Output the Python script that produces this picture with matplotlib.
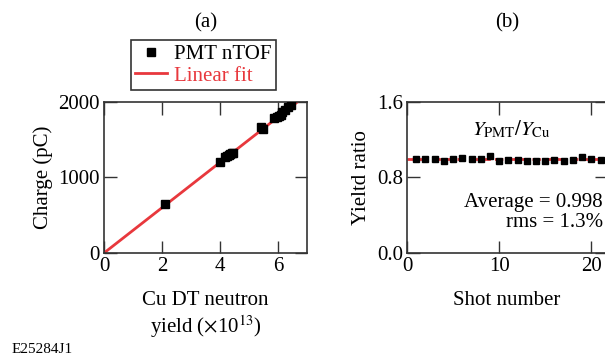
import matplotlib
matplotlib.use('Agg')
import matplotlib.pyplot as plt
import numpy as np

plt.rcParams['font.family'] = ['Liberation Serif', 'DejaVu Serif']
plt.rcParams['mathtext.fontset'] = 'stix'

# (a) PMT charge vs Cu activation yield (x1e13)
cu_yield = [2.12, 4.00, 4.18, 4.25, 4.30, 4.35, 4.40, 4.45, 5.40, 5.47,
            5.85, 5.95, 6.05, 6.10, 6.15, 6.25, 6.35, 6.45]
charge = [645, 1200, 1265, 1280, 1295, 1310, 1320, 1330, 1670, 1640,
          1790, 1805, 1815, 1830, 1870, 1900, 1935, 1965]
fit_slope = 300.0  # pC per 1e13

# (b) yield ratio per shot
shots = list(range(1, 22))
ratio = [1.00, 1.00, 1.00, 0.97, 1.00, 1.01, 1.00, 1.00, 1.03, 0.97, 0.99,
         0.99, 0.98, 0.97, 0.98, 0.99, 0.98, 0.99, 1.02, 1.00, 0.99]
ratio_avg = 0.998

red = '#e8383d'
spine_col = '#333333'

fig = plt.figure(figsize=(6.05, 3.64), dpi=100)
ax1 = fig.add_axes([104/605, 111/364, 203/605, 151/364])
ax2 = fig.add_axes([407/605, 111/364, 200/605, 151/364])

for ax in (ax1, ax2):
    ax.tick_params(direction='in', length=9, width=1, top=True, right=True,
                   labelsize=15, pad=3, color=spine_col)
    for s in ax.spines.values():
        s.set_linewidth(1.2)
        s.set_color(spine_col)

# panel (a)
xf = np.array([0, 7])
ax1.plot(xf, fit_slope * xf, color=red, lw=2, label='Linear fit', zorder=2)
ax1.plot(cu_yield, charge, 's', color='black', ms=5.5, label='PMT nTOF', zorder=3)
ax1.set_xlim(0, 7)
ax1.set_ylim(0, 2000)
ax1.set_xticks([0, 2, 4, 6])
ax1.set_yticks([0, 1000, 2000])
ax1.set_ylabel('Charge (pC)', fontsize=15, labelpad=4)
ax1.set_xlabel('Cu DT neutron\nyield ($\\times$10$^{13}$)', fontsize=15,
               linespacing=1.15, labelpad=11)
ax1.set_title('(a)', fontsize=15, pad=54)

h, l = ax1.get_legend_handles_labels()
leg = ax1.legend(h[::-1], l[::-1], loc='lower center',
                 bbox_to_anchor=(0.49, 1.08), fontsize=15,
                 frameon=True, fancybox=False, edgecolor='black',
                 handlelength=1.5, handletextpad=0.35, borderpad=0.2,
                 labelspacing=0.1, borderaxespad=0)
leg.get_frame().set_linewidth(1.2)
leg.get_texts()[1].set_color(red)

# panel (b)
ax2.axhline(ratio_avg, color=red, lw=2, ls=(0, (3, 1.5)), zorder=2)
ax2.plot(shots, ratio, 's', color='black', ms=3.8, zorder=3)
ax2.set_xlim(0, 21.7)
ax2.set_ylim(0, 1.6)
ax2.set_xticks([0, 10, 20])
ax2.set_yticks([0, 0.8, 1.6])
ax2.set_yticklabels(['0.0', '0.8', '1.6'])
ax2.set_ylabel('Yieltd ratio', fontsize=15, labelpad=4)
ax2.set_xlabel('Shot number', fontsize=15, labelpad=11)
ax2.set_title('(b)', fontsize=15, pad=54)
ax2.text(0.52, 0.82, '$Y_{\\rm PMT}/Y_{\\rm Cu}$', transform=ax2.transAxes,
         ha='center', va='center', fontsize=15)
ax2.text(0.98, 0.27, 'Average = 0.998\nrms = 1.3%', transform=ax2.transAxes,
         ha='right', va='center', fontsize=15, multialignment='right',
         linespacing=1.1)

fig.text(12/605, 1 - 353/364, 'E25284J1', fontsize=11, ha='left', va='baseline')

fig.savefig('out.png', dpi=100, facecolor='white')
